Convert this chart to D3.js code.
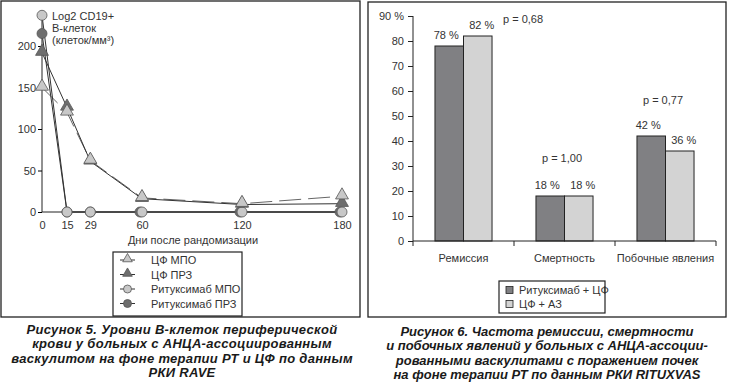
<!DOCTYPE html>
<html>
<head>
<meta charset="utf-8">
<script src="https://cdn.jsdelivr.net/npm/d3@7"></script>
<style>
	body { margin: 0; background: #fff; }
	text { font-family: "Liberation Sans", Arial, sans-serif; fill: #333; }
	.caption { font-weight: bold; font-style: italic; font-size: 13px; fill: #1a1a1a; }
</style>
</head>
<body>
<svg id="chart" width="730" height="388"></svg>
<script>
// figure 5 - B-cell levels
var days = [0, 15, 29, 60, 120, 180];
var cfMpo = [150, 120, 62, 17, 10, 19];
var cfPrz = [192, 126, 61, 16, 9, 10];
var rtMpo = [237, 0, 0, 0, 0, 0];
var rtPrz = [215, 0, 0, 0, 0, 0];
var lineNames = ["ЦФ МПО", "ЦФ ПРЗ", "Ритуксимаб МПО", "Ритуксимаб ПРЗ"];
var yTicksLeft = [0, 50, 100, 150, 200];

// figure 6 - remission etc
var categories = ["Ремиссия", "Смертность", "Побочные явления"];
var rtCf = [78, 18, 42];
var cfAz = [82, 18, 36];
var pValues = ["p = 0,68", "p = 1,00", "p = 0,77"];
var barNames = ["Ритуксимаб + ЦФ", "ЦФ + АЗ"];
var yTicksRight = [0, 10, 20, 30, 40, 50, 60, 70, 80, 90];

var svg = d3.select("#chart");

// frames
svg.append("rect").attr("x", 1).attr("y", 1).attr("width", 359).attr("height", 316)
	.style("fill", "none").style("stroke", "#222").style("stroke-width", 1.3);
svg.append("rect").attr("x", 368).attr("y", 2).attr("width", 358).attr("height", 315)
	.style("fill", "none").style("stroke", "#222").style("stroke-width", 1.3);

// ---------------- LEFT CHART ----------------
var x = d3.scaleLinear().domain([0, 180]).range([42, 342]);
var y = d3.scaleLinear().domain([0, 240]).range([212, 12.8]);

var left = svg.append("g");

left.append("line").attr("x1", x(0)).attr("x2", x(0)).attr("y1", y(0)).attr("y2", y(237))
	.style("stroke", "#222");
left.append("line").attr("x1", x(0)).attr("x2", x(180) + 4).attr("y1", y(0)).attr("y2", y(0))
	.style("stroke", "#222");

var yAxisL = left.append("g").attr("transform", "translate(" + x(0) + ",0)")
	.call(d3.axisLeft(y).tickValues(yTicksLeft).tickSize(4).tickPadding(2));
yAxisL.select(".domain").remove();
yAxisL.selectAll("text").style("font-size", "11px").style("fill", "#333")
	.style("font-family", "Liberation Sans");

var xAxisL = left.append("g").attr("transform", "translate(0," + y(0) + ")")
	.call(d3.axisBottom(x).tickValues(days).tickSize(0).tickPadding(9));
xAxisL.select(".domain").remove();
xAxisL.selectAll("text").style("font-size", "11px").style("fill", "#333")
	.style("font-family", "Liberation Sans");

left.append("text").attr("x", 193).attr("y", 244).attr("text-anchor", "middle")
	.style("font-size", "11px").text("Дни после рандомизации");

// y label
var ylab = left.append("text").attr("x", 52).attr("y", 20).style("font-size", "11px");
ylab.append("tspan").attr("x", 52).attr("dy", 0).text("Log2 CD19+");
ylab.append("tspan").attr("x", 52).attr("dy", 12).text("В-клеток");
ylab.append("tspan").attr("x", 52).attr("dy", 12).text("(клеток/мм³)");

var series = [
	{ vals: cfMpo, shape: "tri", fill: "#c8c8c8", stroke: "#666", dash: "22,7" },
	{ vals: cfPrz, shape: "tri", fill: "#6e6e6e", stroke: "#333", dash: null },
	{ vals: rtMpo, shape: "circ", fill: "#c8c8c8", stroke: "#333", dash: null },
	{ vals: rtPrz, shape: "circ", fill: "#6e6e6e", stroke: "#333", dash: null }
];

var line = d3.line().x((d, i) => x(days[i])).y(d => y(d));

series.forEach(function(s) {
	left.append("path").datum(s.vals).attr("d", line)
		.style("fill", "none").style("stroke", s.stroke).style("stroke-width", 1)
		.style("stroke-dasharray", s.dash);
});

var tri = d3.symbol().type(d3.symbolTriangle).size(72);

// draw circles first, then triangles
[3, 2, 1, 0].forEach(function(k) {
	var s = series[k];
	var g = left.append("g");
	s.vals.forEach(function(v, i) {
		if (s.shape == "tri") {
			g.append("path").attr("d", tri)
				.attr("transform", "translate(" + x(days[i]) + "," + (y(v) - 1) + ")")
				.style("fill", s.fill).style("stroke", "#555").style("stroke-width", 0.8);
		} else {
			var off = (k == 3 && i > 2) ? -2 : 0;
			g.append("circle").attr("cx", x(days[i]) + off).attr("cy", y(v)).attr("r", 5)
				.style("fill", s.fill).style("stroke", "#555").style("stroke-width", 0.8);
		}
	});
});

// legend left
var legL = left.append("g").attr("transform", "translate(113,252)");
legL.append("rect").attr("width", 129).attr("height", 64)
	.style("fill", "#fff").style("stroke", "#222").style("stroke-width", 1.2);
lineNames.forEach(function(n, i) {
	var s = series[i];
	var row = legL.append("g").attr("transform", "translate(0," + (8 + i * 14.5) + ")");
	row.append("line").attr("x1", 7).attr("x2", 22).attr("y1", 0).attr("y2", 0).style("stroke", "#333");
	if (s.shape == "tri") {
		row.append("path").attr("d", d3.symbol().type(d3.symbolTriangle).size(40))
			.attr("transform", "translate(14.5,-1)")
			.style("fill", s.fill).style("stroke", "#555").style("stroke-width", 0.8);
	} else {
		row.append("circle").attr("cx", 14.5).attr("cy", 0).attr("r", 4)
			.style("fill", s.fill).style("stroke", "#555").style("stroke-width", 0.8);
	}
	row.append("text").attr("x", 38).attr("y", 4).style("font-size", "11px").text(n);
});

// caption left
var capL = ["Рисунок 5. Уровни В-клеток периферической",
	"крови у больных с АНЦА-ассоциированным",
	"васкулитом на фоне терапии РТ и ЦФ по данным",
	"РКИ RAVE"];
capL.forEach(function(t, i) {
	svg.append("text").classed("caption", true).attr("x", 182).attr("y", 334 + i * 14.3)
		.attr("text-anchor", "middle").style("letter-spacing", "0.3px").text(t);
});

// ---------------- RIGHT CHART ----------------
var yR = d3.scaleLinear().domain([0, 90]).range([241, 16]);
var xR = d3.scaleBand().domain(categories).range([413, 716]);
var xSub = d3.scaleBand().domain(barNames).range([0, xR.bandwidth()]).paddingOuter(0.77);
var barColour = d3.scaleOrdinal().domain(barNames).range(["#808083", "#d3d3d3"]);

var right = svg.append("g");

var yAxisR = right.append("g").attr("transform", "translate(413,0)")
	.call(d3.axisLeft(yR).tickValues(yTicksRight).tickSize(5).tickPadding(4)
		.tickFormat(d => d == 90 ? "90 %" : d));
yAxisR.select(".domain").attr("d", "M0," + yR(0) + "V" + yR(90));
yAxisR.selectAll("text").style("font-size", "11px").style("fill", "#333")
	.style("font-family", "Liberation Sans");
yAxisR.selectAll("line, path").style("stroke", "#222");

// bars
var barData = [];
categories.forEach(function(c, i) {
	barData.push({ cat: c, name: barNames[0], v: rtCf[i] });
	barData.push({ cat: c, name: barNames[1], v: cfAz[i] });
});

right.selectAll(".bar").data(barData).enter().append("rect").classed("bar", true)
	.attr("x", d => xR(d.cat) + xSub(d.name))
	.attr("y", d => yR(d.v))
	.attr("width", xSub.bandwidth())
	.attr("height", d => yR(0) - yR(d.v))
	.style("fill", d => barColour(d.name))
	.style("stroke", "#222").style("stroke-width", 1);

right.selectAll(".barLabel").data(barData).enter().append("text").classed("barLabel", true)
	.attr("x", d => xR(d.cat) + xSub(d.name) + xSub.bandwidth() / 2 + (d.name == barNames[1] ? 4 : -3))
	.attr("y", d => yR(d.v) - 7)
	.attr("text-anchor", "middle").style("font-size", "11px")
	.text(d => d.v + " %");

// x axis
right.append("line").attr("x1", 413).attr("x2", 716).attr("y1", yR(0)).attr("y2", yR(0))
	.style("stroke", "#222");
var bounds = categories.map(c => xR(c)).concat([xR(categories[2]) + xR.bandwidth()]);
right.selectAll(".sepTick").data(bounds).enter().append("line")
	.attr("x1", d => d).attr("x2", d => d).attr("y1", yR(0)).attr("y2", yR(0) + 5)
	.style("stroke", "#222");
right.selectAll(".catLabel").data(categories).enter().append("text")
	.attr("x", d => xR(d) + xR.bandwidth() / 2).attr("y", 262)
	.attr("text-anchor", "middle").style("font-size", "11px").text(d => d);

// p values
var pPos = [[503, 23, "start"], [562, 162, "middle"], [663, 104, "middle"]];
pValues.forEach(function(p, i) {
	right.append("text").attr("x", pPos[i][0]).attr("y", pPos[i][1])
		.attr("text-anchor", pPos[i][2]).style("font-size", "11px").text(p);
});

// legend right
var legR = right.append("g").attr("transform", "translate(499,281)");
legR.append("rect").attr("width", 106).attr("height", 32)
	.style("fill", "#fff").style("stroke", "#222").style("stroke-width", 1.2);
barNames.forEach(function(n, i) {
	var row = legR.append("g").attr("transform", "translate(0," + (9 + i * 14) + ")");
	row.append("rect").attr("x", 7).attr("y", -3.5).attr("width", 7).attr("height", 7)
		.style("fill", barColour(n)).style("stroke", "#222").style("stroke-width", 0.8);
	row.append("text").attr("x", 20).attr("y", 4).style("font-size", "11px").text(n);
});

// caption right
var capR = ["Рисунок 6. Частота ремиссии, смертности",
	"и побочных явлений у больных с АНЦА-ассоции-",
	"рованными васкулитами с поражением почек",
	"на фоне терапии РТ по данным РКИ RITUXVAS"];
capR.forEach(function(t, i) {
	svg.append("text").classed("caption", true).attr("x", 547).attr("y", 336 + i * 14.3)
		.attr("text-anchor", "middle").text(t);
});
</script>
</body>
</html>
